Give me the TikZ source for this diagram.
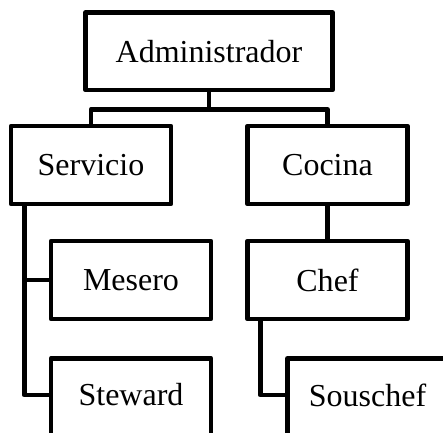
\documentclass[tikz,border=0pt]{standalone}
\usepackage{fontspec}
\setmainfont{Liberation Serif}
\begin{document}
\begin{tikzpicture}[x=1pt,y=-1pt,line width=4.7pt,line join=round,
  lbl/.style={font=\fontsize{32}{38}\selectfont},
  box/.style={draw,inner sep=0pt,minimum width=160pt,minimum height=78pt,lbl}]
\useasboundingbox (0,0) rectangle (443,432);
\clip (0,0) rectangle (443,432);
\node[box,minimum width=247pt,minimum height=77.5pt] (admin) at (209,51.25) {Administrador};
\node[box] (serv) at (91,165) {Servicio};
\node[box] (coc) at (327.5,165) {Cocina};
\node[box] (mes) at (131,280) {Mesero};
\node[box,minimum height=95pt,anchor=north] (stew) at (131,356) {};
\node[lbl] (stewt) at (131,395) {Steward};
\node[box] (chef) at (327.5,280) {Chef};
\node[box,minimum height=95pt,anchor=north] (sous) at (367.5,356) {};
\node[lbl] (sloust) at (367.5,395) {Souschef};
\draw (admin.south) -- ++(0,17) coordinate (j);
\draw (serv.north) |- (j) -| (coc.north);
\coordinate (s) at ([xshift=15.5pt]serv.south west);
\draw (s) |- (stewt -| stew.west);
\draw (mes.west) -- (mes.west -| s);
\draw (coc.south) -- (chef.north);
\coordinate (c) at ([xshift=15pt]chef.south west);
\draw (c) |- (sloust -| sous.west);
\end{tikzpicture}
\end{document}
